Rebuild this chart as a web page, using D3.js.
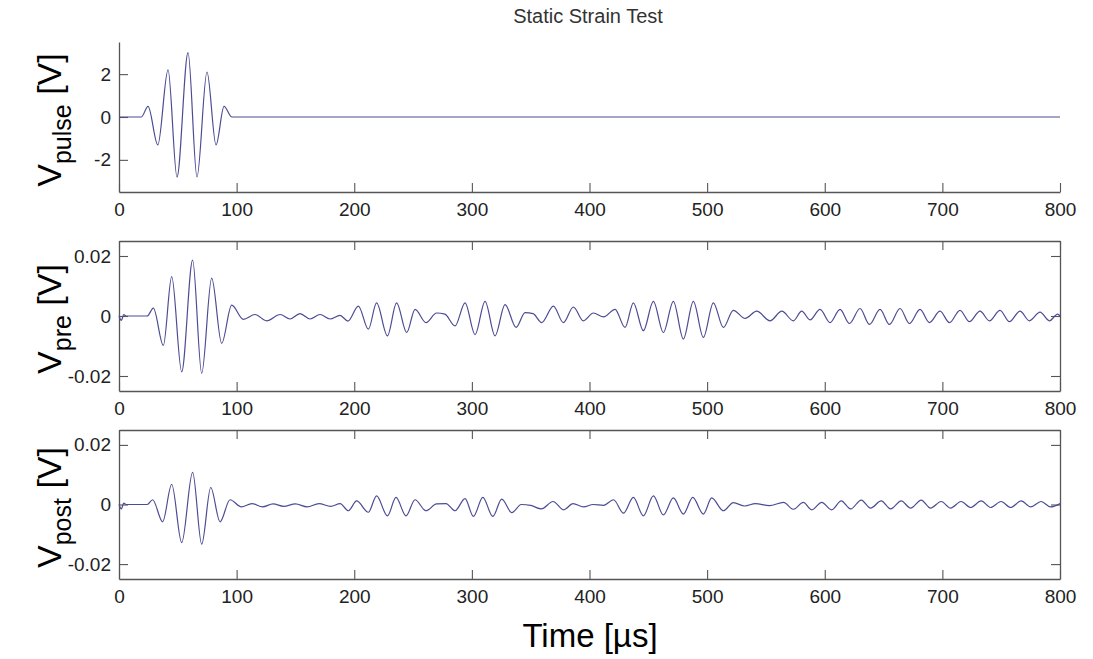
<!DOCTYPE html>
<html>
<head>
<meta charset="utf-8">
<script src="https://cdn.jsdelivr.net/npm/d3@7"></script>
<style>
  body { margin: 0; background: #fff; }
  svg text { font-family: "Liberation Sans", Arial, Helvetica, sans-serif; }
</style>
</head>
<body>
<svg id="chart" width="1093" height="659"></svg>
<script>
// --- data (turning points, time in us) ---
const timeTicks = [0, 100, 200, 300, 400, 500, 600, 700, 800];
const pulseTicks = [-2, 0, 2];
const smallTicks = [-0.02, 0, 0.02];

const pulseT = [0, 19, 24.7, 33, 41.7, 49.3, 58.7, 66.3, 74.8, 82.5, 89.3, 96, 98, 800];
const pulseV = [0, 0, 0.5, -1.3, 2.2, -2.8, 3.0, -2.8, 2.1, -1.3, 0.5, 0, 0, 0];

const preT = [0, 2, 4, 6, 24, 29.2, 37.7, 44.8, 53.3, 62.6, 70.3, 78.8, 87.3, 95.8, 105.7,
  115.6, 125.5, 137, 145.4, 153.9, 162.4, 170.9, 179.4, 187.9, 194.7, 203.5, 212, 219, 228.2,
  236, 244.6, 251.7, 261, 270, 277, 285.7, 294.2, 302.7, 311.2, 319.7, 328.2, 337.6, 345.2,
  352, 359.4, 369.3, 377.8, 386.3, 394.8, 403.3, 412, 421.7, 430.2, 437.3, 445.8, 454.3,
  462.8, 471.3, 479.8, 488.3, 496.8, 505.3, 513.8, 522.3, 532.3, 542.2, 553.5, 563.5, 573.3,
  580.4, 587.5, 596, 604.5, 613, 621, 630, 638, 647, 655, 664, 672, 681, 689, 698, 706, 715,
  723, 732, 740, 749, 757, 766, 774, 783, 791, 798, 800];
const preV = [0, -0.0015, 0.0005, 0, 0, 0.0026, -0.0098, 0.0131, -0.0186, 0.0186, -0.0191,
  0.0126, -0.0091, 0.0036, -0.0011, 0.0005, -0.0016, 0.0005, -0.001, 0.0008, -0.001, 0.0005,
  -0.001, 0.0002, -0.0017, 0.0033, -0.0044, 0.0044, -0.0066, 0.0044, -0.0055, 0.0022, -0.0022,
  0.001, 0.0006, -0.0033, 0.0044, -0.0062, 0.0049, -0.0066, 0.0038, -0.0038, 0.0011, 0.0008,
  -0.0022, 0.0033, -0.0022, 0.003, -0.0016, 0.001, -0.0003, 0.0022, -0.0038, 0.0044, -0.0049,
  0.0049, -0.0055, 0.0049, -0.0077, 0.0049, -0.0071, 0.0044, -0.0038, 0.0019, -0.0008, 0.0016,
  -0.0016, 0.0016, -0.0016, 0.0016, -0.0013, 0.0022, -0.0022, 0.0022, -0.0025, 0.0025, -0.0028,
  0.0022, -0.0028, 0.0025, -0.0025, 0.0022, -0.0022, 0.0016, -0.0022, 0.0019, -0.0019, 0.0016,
  -0.0016, 0.0019, -0.0019, 0.0016, -0.0016, 0.0013, -0.0016, 0.0006, 0];

const postT = [0, 2, 4, 6, 24, 28.6, 37.1, 44.8, 53.3, 62.6, 70.3, 78, 85.9, 94.4, 104, 113,
  122, 131, 140, 150, 160, 170, 180, 188, 195, 202, 212, 219, 228.2, 235.5, 244, 251.7, 261,
  270, 278, 285.7, 294.2, 301.3, 309.3, 317.8, 325.4, 333.9, 342, 350, 359, 369, 378, 386, 395,
  403, 412, 420.4, 428.9, 437.3, 445.8, 454.3, 462.8, 471.3, 479.8, 487.8, 496.8, 503.9, 513.8,
  522.3, 532, 541, 553, 565, 573.3, 581.8, 588.9, 597.4, 605.9, 614, 622, 631, 639, 648, 656,
  665, 673, 682, 690, 699, 707, 716, 724, 733, 741, 750, 758, 767, 775, 784, 792, 800];
const postV = [0, -0.0015, 0.0005, 0, 0, 0.0016, -0.0058, 0.0068, -0.0128, 0.0108, -0.0133,
  0.0057, -0.0058, 0.0016, -0.0008, 0.0003, -0.0008, 0.0002, -0.0006, 0.0002, -0.0008, 0.0003,
  -0.0006, 0.0003, -0.0021, 0.0012, -0.0026, 0.0029, -0.0038, 0.0024, -0.0038, 0.0016, -0.0021,
  0.0002, 0.0003, -0.0021, 0.002, -0.004, 0.0024, -0.004, 0.0018, -0.0027, 0, -0.0003, -0.0015,
  0.001, -0.0018, 0.0003, -0.0008, 0, -0.0003, 0.0016, -0.0029, 0.0024, -0.0038, 0.0029,
  -0.0035, 0.0022, -0.0032, 0.0024, -0.0032, 0.0022, -0.0021, 0.0006, -0.0005, 0.0003, -0.0004,
  0.0007, -0.0016, 0.0007, -0.0018, 0.0007, -0.0018, 0.0012, -0.0015, 0.0015, -0.0012, 0.0012,
  -0.0015, 0.0012, -0.0012, 0.0015, -0.0012, 0.001, -0.0012, 0.001, -0.001, 0.0012, -0.001,
  0.001, -0.001, 0.0012, -0.0008, 0.001, -0.0008, 0.0003];

// --- layout ---
const svg = d3.select('#chart');
const axisColor = '#555';
const lineColor = '#4c4c94';

const x = d3.scaleLinear().domain([0, 800]).range([119, 1060]);

const panels = [
  { t: pulseT, v: pulseV, domain: [-3.5, 3.5], top: 42, bottom: 192, ticks: pulseTicks, sub: 'pulse', box: false },
  { t: preT, v: preV, domain: [-0.025, 0.025], top: 241, bottom: 391, ticks: smallTicks, sub: 'pre', box: true },
  { t: postT, v: postV, domain: [-0.025, 0.025], top: 430, bottom: 579, ticks: smallTicks, sub: 'post', box: true }
];

const styleAxis = g => {
  g.select('.domain').attr('stroke', axisColor).attr('stroke-width', 1.3);
  g.selectAll('.tick line').attr('stroke', axisColor).attr('stroke-width', 1.1);
  g.selectAll('.tick text').attr('fill', '#222').style('font-size', '19px');
};

panels.forEach(p => {
  const y = d3.scaleLinear().domain(p.domain).range([p.bottom, p.top]);

  // bottom axis, ticks pointing inward
  svg.append('g')
    .attr('transform', `translate(0,${p.bottom})`)
    .call(d3.axisBottom(x).tickValues(timeTicks).tickSizeInner(-9).tickSizeOuter(0)
      .tickPadding(11).tickFormat(d => String(d)))
    .call(styleAxis);

  // left axis
  svg.append('g')
    .attr('transform', `translate(${x.range()[0]},0)`)
    .call(d3.axisLeft(y).tickValues(p.ticks).tickSizeInner(-9).tickSizeOuter(0)
      .tickPadding(8).tickFormat(d => String(d)))
    .call(styleAxis);

  if (p.box) {
    // mirrored axes on top and right, no labels
    svg.append('g')
      .attr('transform', `translate(0,${p.top})`)
      .call(d3.axisTop(x).tickValues(timeTicks).tickSizeInner(-9).tickSizeOuter(0).tickFormat(''))
      .call(styleAxis);
    svg.append('g')
      .attr('transform', `translate(${x.range()[1]},0)`)
      .call(d3.axisRight(y).tickValues(p.ticks).tickSizeInner(-9).tickSizeOuter(0).tickFormat(''))
      .call(styleAxis);
  }

  // trace
  const pts = p.t.map((t, i) => [t, p.v[i]]);
  svg.append('path')
    .datum(pts)
    .attr('fill', 'none')
    .attr('stroke', lineColor)
    .attr('stroke-width', 1.2)
    .attr('d', d3.line().x(d => x(d[0])).y(d => y(d[1])).curve(d3.curveMonotoneX));

  // y label: V_sub [V], rotated
  const cy = (p.top + p.bottom) / 2 + 3;
  const lab = svg.append('text')
    .attr('transform', `translate(61,${cy}) rotate(-90)`)
    .attr('text-anchor', 'middle')
    .style('font-size', '34px')
    .attr('fill', '#000');
  lab.append('tspan').text('V');
  lab.append('tspan').attr('dy', 10).style('font-size', '25px').text(p.sub);
  lab.append('tspan').attr('dy', -10).text(' [V]');
});

// title and x label
svg.append('text')
  .attr('x', 588).attr('y', 23)
  .attr('text-anchor', 'middle')
  .style('font-size', '20px')
  .attr('fill', '#333')
  .text('Static Strain Test');

svg.append('text')
  .attr('x', 590).attr('y', 647)
  .attr('text-anchor', 'middle')
  .style('font-size', '33px')
  .attr('fill', '#000')
  .text('Time [µs]');
</script>
</body>
</html>
